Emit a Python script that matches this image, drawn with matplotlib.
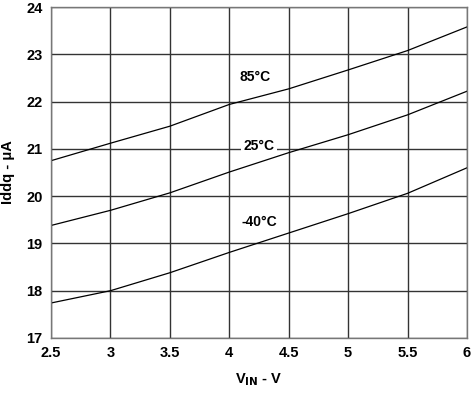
import matplotlib
matplotlib.use('Agg')
import matplotlib.pyplot as plt

plt.rcParams['font.family'] = ['Liberation Sans', 'DejaVu Sans']
plt.rcParams['font.weight'] = 'bold'

vin = [2.5, 3.0, 3.5, 4.0, 4.5, 5.0, 5.5, 6.0]
iddq_85 = [20.75, 21.12, 21.48, 21.94, 22.27, 22.67, 23.08, 23.58]
iddq_25 = [19.38, 19.7, 20.07, 20.51, 20.92, 21.3, 21.72, 22.22]
iddq_m40 = [17.74, 18.0, 18.38, 18.81, 19.22, 19.63, 20.06, 20.6]

labels = ['85°C', '25°C', '-40°C']
label_pos = [(4.22, 22.52), (4.25, 21.06), (4.25, 19.45)]

fig = plt.figure(figsize=(4.74, 3.93), dpi=100)
ax = fig.add_axes([0.1076, 0.140, 0.8776, 0.842])

for ys in (iddq_85, iddq_25, iddq_m40):
    ax.plot(vin, ys, color='black', lw=0.9)

for txt, (x, y) in zip(labels, label_pos):
    ax.text(x, y, txt, ha='center', va='center', fontsize=10, fontweight='bold',
            bbox=dict(facecolor='white', edgecolor='none', pad=1.5))

ax.set_xlim(2.5, 6)
ax.set_ylim(17, 24)
ax.set_xticks([2.5, 3, 3.5, 4, 4.5, 5, 5.5, 6])
ax.set_xticklabels(['2.5', '3', '3.5', '4', '4.5', '5', '5.5', '6'])
ax.set_yticks(range(17, 25))
ax.grid(True, color='#333333', lw=1.0)
ax.set_axisbelow(True)
for s in ax.spines.values():
    s.set_color('#777777')
    s.set_linewidth(1.0)
ax.tick_params(length=0, labelsize=10.5, pad=6)
for t in ax.get_xticklabels() + ax.get_yticklabels():
    t.set_fontweight('bold')

ax.set_xlabel(r'V$_{\mathbf{IN}}$ - V', fontsize=10.5, fontweight='bold', labelpad=8)
ax.set_ylabel('Iddq - μA', fontsize=10.5, fontweight='bold', labelpad=8)

fig.savefig('out.png', dpi=100)
